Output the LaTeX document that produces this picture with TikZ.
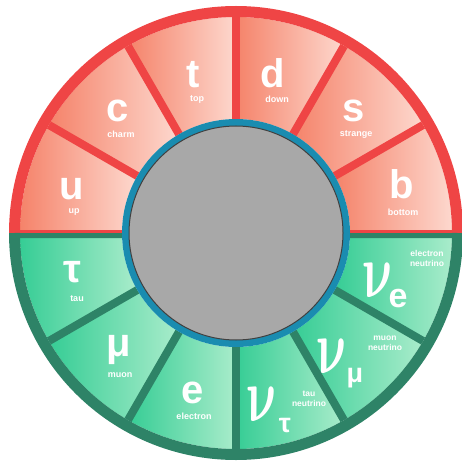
\RequirePackage{fix-cm}
\documentclass[tikz,border=0pt]{standalone}
\usepackage{fontspec}
\usepackage{graphicx}
\setmainfont{Liberation Sans}
\usetikzlibrary{calc}
\definecolor{ringred}{HTML}{EF4545}
\definecolor{quarkdark}{HTML}{F5836A}
\definecolor{quarklight}{HTML}{FDD8CE}
\definecolor{ringgreen}{HTML}{2E8367}
\definecolor{leptondark}{HTML}{36CD95}
\definecolor{leptonlight}{HTML}{A9ECCB}
\definecolor{ringblue}{HTML}{1A8CB0}
\definecolor{coregray}{HTML}{A8A8A8}
\newcommand{\nusym}{\scalebox{0.76}[1.2]{$\nu$}}
\begin{document}
\begin{tikzpicture}[x=1pt,y=1pt,line join=round,
	sym/.style={text=white,inner sep=0,font=\fontsize{40}{40}\selectfont\bfseries},
	subsym/.style={text=white,inner sep=0,font=\fontsize{34}{34}\selectfont\bfseries},
	nu/.style={text=white,inner sep=0,xslant=-0.15,transform shape,font=\fontsize{64}{64}\selectfont\boldmath},
	pname/.style={text=white,inner sep=0,font=\fontsize{9}{9}\selectfont\bfseries},
	nname/.style={text=white,inner sep=0,align=center,font=\fontsize{8.5}{10}\selectfont\bfseries}]
	\useasboundingbox (0,0) rectangle (462,461);
	\def\ro{227}
	\def\rr{216}
	\def\ri{114}
	\coordinate (O) at (236,228);
	% quark half
	\foreach \a in {0,30,...,150}{
		\shade[left color=quarkdark,right color=quarklight] ($(O)+(\a:\ri)$) arc (\a:\a+30:\ri) -- ($(O)+(\a+30:\rr)$) arc (\a+30:\a:\rr) -- cycle;
	}
	% lepton half
	\foreach \a in {180,210,...,330}{
		\shade[left color=leptondark,right color=leptonlight] ($(O)+(\a:\ri)$) arc (\a:\a+30:\ri) -- ($(O)+(\a+30:\rr)$) arc (\a+30:\a:\rr) -- cycle;
	}
	% outer ring
	\draw[ringred,line width=11] ($(O)+(0:221.5)$) arc (0:180:221.5);
	\draw[ringgreen,line width=11] ($(O)+(180:221.5)$) arc (180:360:221.5);
	% dividers
	\foreach \a in {30,60,...,150}
		\draw[ringred,line width=8] ($(O)+(\a:\ri)$)--($(O)+(\a:\rr)$);
	\foreach \a in {210,240,...,330}
		\draw[ringgreen,line width=8] ($(O)+(\a:\ri)$)--($(O)+(\a:\rr)$);
	\fill[ringred] ($(O)+(-\rr,0)$) rectangle ($(O)+(-\ri,3)$) ($(O)+(\ri,0)$) rectangle ($(O)+(\rr,3)$);
	\fill[ringgreen] ($(O)+(-\rr,0)$) rectangle ($(O)+(-\ri,-5)$) ($(O)+(\ri,0)$) rectangle ($(O)+(\rr,-5)$);
	% core
	\draw[ringblue,line width=7] (O) circle (110.5);
	\draw[black!75,line width=1,fill=coregray] (O) circle (107);
	% quarks
	\node[sym] (u) at (72,272) {u};
	\node[pname] (up) at (74,249) {up};
	\node[sym] (c) at (118,350) {c};
	\node[pname] (charm) at (121,327) {charm};
	\node[sym] (t) at (193,386) {t};
	\node[pname] (top) at (197,361) {top};
	\node[sym] (d) at (273,388) {d};
	\node[pname] (down) at (277,362) {down};
	\node[sym] (s) at (354,350) {s};
	\node[pname] (strange) at (356,326) {strange};
	\node[sym] (b) at (402,277) {b};
	\node[pname] (bottom) at (403,249) {bottom};
	% leptons
	\node[sym] (tau) at (72,189) {τ};
	\node[pname] (taun) at (77,162) {tau};
	\node[sym] (mu) at (119,111) {μ};
	\node[pname] (muon) at (120,86) {muon};
	\node[sym] (e) at (193,68) {e};
	\node[pname] (electron) at (194,45) {electron};
	% neutrinos
	\node[nu] (nutau) at (263,57) {\nusym};
	\node[subsym,font=\fontsize{27}{27}\selectfont\bfseries] (nutausub) at (285,35) {τ};
	\node[nname] (nutaun) at (309,62) {tau\\neutrino};
	\node[nu] (numu) at (333,105) {\nusym};
	\node[subsym,font=\fontsize{27}{27}\selectfont\bfseries] (numusub) at (355,83) {μ};
	\node[nname] (numun) at (385,118) {muon\\neutrino};
	\node[nu] (nue) at (379,181) {\nusym};
	\node[subsym] (nuesub) at (398,162) {e};
	\node[nname] (nuen) at (427,203) {electron\\neutrino};
\end{tikzpicture}
\end{document}
